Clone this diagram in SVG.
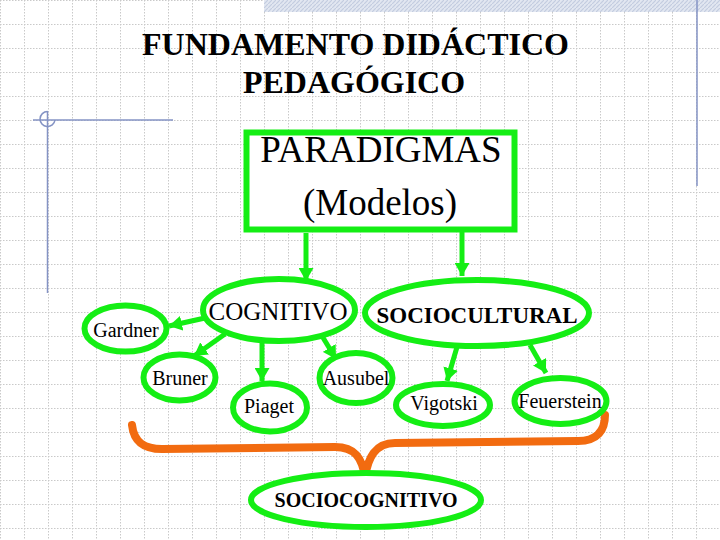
<svg xmlns="http://www.w3.org/2000/svg" width="720" height="540" viewBox="0 0 720 540">
<defs>
<pattern id="grid" width="24" height="24" patternUnits="userSpaceOnUse">
<path d="M0,0.5 H24 M0.5,0 V24" stroke="#c9c9c9" stroke-width="1" stroke-dasharray="1.5 1.5" fill="none"/>
</pattern>
<pattern id="hatch" width="4" height="4" patternUnits="userSpaceOnUse">
<rect width="4" height="4" fill="#e2e7f1"/>
<path d="M0,4 L4,0" stroke="#c3cce0" stroke-width="1.2"/>
</pattern>
<marker id="ah" viewBox="0 0 13 15" refX="13" refY="7.5" markerWidth="13" markerHeight="15" markerUnits="userSpaceOnUse" orient="auto">
<path d="M0,0 L13,7.5 L0,15 z" fill="#14ee14"/>
</marker>
</defs>
<style>
text{font-family:'Liberation Serif','DejaVu Serif',serif;fill:#000;text-anchor:middle}
.title{font-size:32px;font-weight:bold}
.big{font-size:37px}
.node{fill:#fff;stroke:#14ee14;stroke-width:6}
.leaf{font-size:20px}
.conn{stroke:#14ee14;stroke-width:5;fill:none;marker-end:url(#ah)}
.deco{stroke:#8493c4;stroke-width:1.5;fill:none}
</style>
<rect width="720" height="540" fill="#fff"/>
<rect width="720" height="540" fill="url(#grid)"/>
<rect x="264" y="0" width="456" height="12" fill="url(#hatch)"/>
<line class="deco" x1="697" y1="0" x2="697" y2="186"/>
<line class="deco" x1="33" y1="120" x2="173" y2="120"/>
<line class="deco" x1="47.5" y1="111" x2="47.5" y2="293"/>
<path class="deco" d="M47.5,111.5 A7.5,7.5 0 1 0 55,120"/>

<g id="title" font-family="Liberation Serif, DejaVu Serif, serif">
<text class="title" x="355.5" y="55">FUNDAMENTO DIDÁCTICO</text>
<text class="title" x="354" y="93">PEDAGÓGICO</text>
</g>

<g id="paradigmas" font-family="Liberation Serif, DejaVu Serif, serif">
<rect class="node" x="246.5" y="132.5" width="268" height="97"/>
<text class="big" x="381" y="162">PARADIGMAS</text>
<text class="big" x="380" y="215">(Modelos)</text>
</g>

<g id="connectors">
<line class="conn" x1="306" y1="233" x2="306" y2="281"/>
<line class="conn" x1="462" y1="230" x2="462" y2="276"/>
<line class="conn" x1="205" y1="318" x2="169" y2="326"/>
<line class="conn" x1="225" y1="334" x2="194" y2="356"/>
<line class="conn" x1="262" y1="342" x2="262" y2="381"/>
<line class="conn" x1="322" y1="336" x2="336" y2="359"/>
<line class="conn" x1="457" y1="347" x2="447" y2="381"/>
<line class="conn" x1="530" y1="345" x2="546" y2="373"/>
<path d="M132,425 C134,443 145,449 162,449 L335,447 C355,447 362,458 365,477 C368,458 375,443 395,443 L578,441 C598,441 605,430 605,415" fill="none" stroke="#f26b10" stroke-width="8" stroke-linecap="round" stroke-linejoin="round"/>
</g>

<g id="cognitivo">
<ellipse class="node" cx="279" cy="310" rx="76" ry="31"/>
<text x="278" y="320" font-size="25">COGNITIVO</text>
</g>
<g id="sociocultural">
<ellipse class="node" cx="477" cy="313" rx="112" ry="33"/>
<text x="477" y="323" font-size="23" font-weight="bold">SOCIOCULTURAL</text>
</g>
<g id="gardner">
<ellipse class="node" cx="125.5" cy="328.5" rx="41" ry="23"/>
<text class="leaf" x="126" y="337">Gardner</text>
</g>
<g id="bruner">
<ellipse class="node" cx="179.5" cy="377.5" rx="36" ry="23"/>
<text class="leaf" x="180" y="385">Bruner</text>
</g>
<g id="piaget">
<ellipse class="node" cx="270" cy="407.5" rx="37" ry="24"/>
<text class="leaf" x="269" y="413">Piaget</text>
</g>
<g id="ausubel">
<ellipse class="node" cx="356" cy="378" rx="36.5" ry="25"/>
<text class="leaf" x="356" y="385">Ausubel</text>
</g>
<g id="vigotski">
<ellipse class="node" cx="443" cy="405" rx="47" ry="21"/>
<text class="leaf" x="444" y="410">Vigotski</text>
</g>
<g id="feuerstein">
<ellipse class="node" cx="560.5" cy="401" rx="46" ry="23"/>
<text class="leaf" x="560" y="408">Feuerstein</text>
</g>
<g id="sociocognitivo">
<ellipse class="node" cx="366" cy="500" rx="115" ry="27"/>
<text x="366" y="507" font-size="20" font-weight="bold">SOCIOCOGNITIVO</text>
</g>
</svg>
